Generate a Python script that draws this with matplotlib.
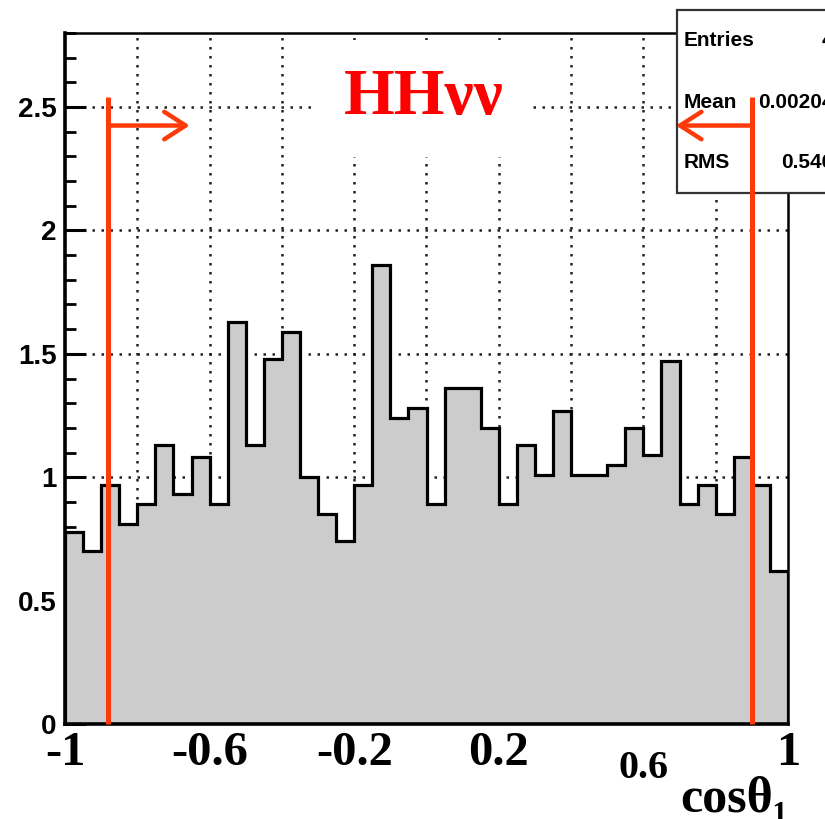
import numpy as np
import matplotlib
matplotlib.use("Agg")
import matplotlib.pyplot as plt
from matplotlib.patches import Rectangle
from matplotlib.ticker import MultipleLocator

# ---- data ----
bin_lo, bin_hi, n_bins = -1.0, 1.0, 40
values = [0.78, 0.70, 0.97, 0.81, 0.89, 1.13, 0.93, 1.08, 0.89, 1.63,
          1.13, 1.48, 1.59, 1.00, 0.85, 0.74, 0.97, 1.86, 1.24, 1.28,
          0.89, 1.36, 1.36, 1.20, 0.89, 1.13, 1.01, 1.27, 1.01, 1.01,
          1.05, 1.20, 1.09, 1.47, 0.89, 0.97, 0.85, 1.08, 0.97, 0.62]
xtick_vals = [-1, -0.6, -0.2, 0.2, 0.6, 1]
xtick_labels = ["-1", "-0.6", "-0.2", "0.2", "0.6", "1"]
ytick_vals = [0, 0.5, 1, 1.5, 2, 2.5]
ytick_labels = ["0", "0.5", "1", "1.5", "2", "2.5"]
cut_lo, cut_hi = -0.88, 0.90
cut_top = 2.54
arrow_y = 2.425
arrow_lo_tip, arrow_hi_tip = -0.655, 0.69
title_text = "HH\u03bd\u03bd"
xlabel_text = "cos\u03b8\u2081"
stats_names = ["Entries", "Mean", "RMS"]
stats_values = ["40", "0.002045", "0.5465"]

edges = np.linspace(bin_lo, bin_hi, n_bins + 1)

fig = plt.figure(figsize=(8.25, 8.19), dpi=100)
ax = fig.add_axes([65 / 825, 1 - 724 / 819, 723 / 825, 691 / 819])
ax.set_xlim(-1, 1)
ax.set_ylim(0, 2.8)

red = "#ff3a0a"

# grid
ax.set_axisbelow(True)
for xv in np.arange(-0.8, 0.81, 0.2):
    ax.axvline(xv, color="#222222", lw=1.8, ls=(0, (1, 2.6)), zorder=0.5)
for yv in [0.5, 1.0, 1.5, 2.0, 2.5]:
    ax.axhline(yv, color="#222222", lw=1.8, ls=(0, (1, 2.6)), zorder=0.5)

# histogram
ax.stairs(values, edges, fill=True, color="#cccccc", zorder=1)
ax.stairs(values, edges, color="black", lw=2.3, zorder=2)

# ticks
ax.set_xticks(xtick_vals, xtick_labels)
ax.set_yticks(ytick_vals, ytick_labels)
ax.yaxis.set_minor_locator(MultipleLocator(0.1))
ax.tick_params(axis="x", length=0, pad=5)
ax.tick_params(axis="y", which="major", direction="in", length=15, width=2.2, pad=6)
ax.tick_params(axis="y", which="minor", direction="in", length=8, width=2.0)
for lab in ax.get_yticklabels():
    lab.set_fontfamily("Liberation Sans")
    lab.set_fontweight("bold")
    lab.set_fontsize(20)
for lab in ax.get_xticklabels():
    lab.set_fontfamily("Liberation Serif")
    lab.set_fontweight("bold")
    lab.set_fontsize(35)
labs = ax.get_xticklabels()
labs[4].set_fontsize(29)
labs[4].set_y(-0.027)

for side in ["left", "bottom"]:
    ax.spines[side].set_linewidth(2.6)
for side in ["top", "right"]:
    ax.spines[side].set_linewidth(1.8)

ax.set_xlabel(xlabel_text, fontsize=36, fontweight="bold",
              family=["Liberation Serif", "DejaVu Serif"], ha="right", va="baseline")
ax.xaxis.set_label_coords(1.0, -0.127)

# title text
ax.text(-0.228, 2.47, title_text, color="red", fontsize=47, fontweight="bold",
        family="Liberation Serif", ha="left", va="baseline", zorder=3,
        bbox=dict(facecolor="white", edgecolor="none", pad=20))

# stats box
box = Rectangle((677 / 825, 1 - 193 / 819), 0.3, (193 - 10) / 819,
                transform=fig.transFigure, facecolor="white", edgecolor="#333333",
                lw=1.6, clip_on=False, zorder=5)
ax.add_patch(box)
for name, val, yp in zip(stats_names, stats_values, [40, 102, 163]):
    ax.text(684 / 825, 1 - yp / 819, name, transform=fig.transFigure,
            fontsize=15, fontweight="bold", family="Liberation Sans",
            ha="left", va="center", zorder=5.5, clip_on=False)
    ax.text(845 / 825, 1 - yp / 819, val, transform=fig.transFigure,
            fontsize=15, fontweight="bold", family="Liberation Sans",
            ha="right", va="center", zorder=5.5, clip_on=False)

# cut lines and arrows
for xc in [cut_lo, cut_hi]:
    ax.plot([xc, xc], [0, cut_top], color=red, lw=3.6, solid_capstyle="butt",
            zorder=6, clip_on=False)
ax.annotate("", xy=(arrow_lo_tip, arrow_y), xytext=(cut_lo, arrow_y),
            arrowprops=dict(arrowstyle="->,head_length=0.7,head_width=0.45",
                            color=red, lw=3.2, shrinkA=0, shrinkB=0,
                            mutation_scale=22), zorder=6)
ax.annotate("", xy=(arrow_hi_tip, arrow_y), xytext=(cut_hi, arrow_y),
            arrowprops=dict(arrowstyle="->,head_length=0.7,head_width=0.45",
                            color=red, lw=3.2, shrinkA=0, shrinkB=0,
                            mutation_scale=22), zorder=6)

fig.savefig("out.png", dpi=100)
